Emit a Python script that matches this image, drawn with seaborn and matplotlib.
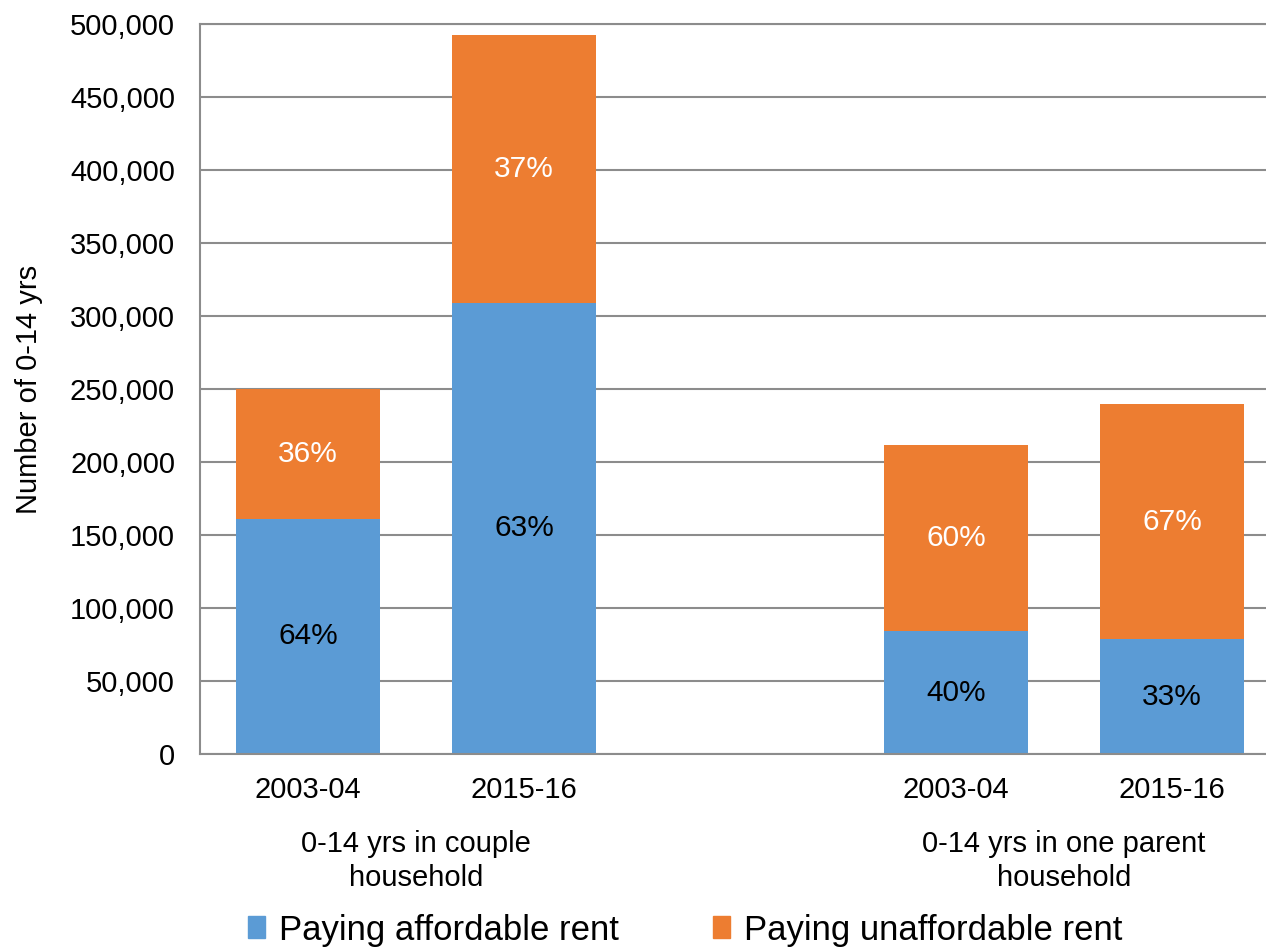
import matplotlib.pyplot as plt
import matplotlib.ticker as mticker
import pandas as pd
import seaborn as sns

groups = ['0-14 yrs in couple\nhousehold', '0-14 yrs in one parent\nhousehold']
years = ['2003-04', '2015-16']
affordable = [161000, 309000, 84000, 78500]
unaffordable = [89000, 183500, 127600, 161200]
pct_affordable = ['64%', '63%', '40%', '33%']
pct_unaffordable = ['36%', '37%', '60%', '67%']
series_names = ['Paying affordable rent', 'Paying unaffordable rent']

blue = '#5B9BD5'
orange = '#ED7D31'
grid_grey = '#8C8C8C'

sns.set_theme(style='white')
plt.rcParams['font.family'] = ['Liberation Sans', 'DejaVu Sans']
plt.rcParams['text.color'] = 'black'
plt.rcParams['axes.labelcolor'] = 'black'

# one empty slot between the two household groups
slots = [g * 3 + j for g in range(len(groups)) for j in range(len(years))]
df = pd.DataFrame({
    'slot': slots,
    'affordable': affordable,
    'total': [a + u for a, u in zip(affordable, unaffordable)],
})

fig = plt.figure(figsize=(12.66, 9.5), dpi=100)
ax = fig.add_axes([200 / 1266, 196 / 950, 1066 / 1266, 730 / 950])

bar_w = 0.667
sns.barplot(data=df, x='slot', y='total', native_scale=True, color=orange,
            saturation=1, width=bar_w, linewidth=0, errorbar=None, ax=ax)
sns.barplot(data=df, x='slot', y='affordable', native_scale=True, color=blue,
            saturation=1, width=bar_w, linewidth=0, errorbar=None, ax=ax)

for i, row in df.iterrows():
    ax.text(row['slot'], row['affordable'] / 2, pct_affordable[i],
            ha='center', va='center', fontsize=21.5, color='black')
    ax.text(row['slot'], row['affordable'] + unaffordable[i] / 2, pct_unaffordable[i],
            ha='center', va='center', fontsize=21.5, color='white')

ax.set_ylim(0, 500000)
ax.set_xlim(-0.5, 4.435)
ax.yaxis.set_major_locator(mticker.MultipleLocator(50000))
ax.yaxis.set_major_formatter(mticker.FuncFormatter(lambda v, p: f'{int(v):,}'))
ax.set_xticks(slots)
ax.set_xticklabels(years * len(groups))
ax.tick_params(axis='y', length=0, pad=18, labelsize=21, labelcolor='black')
ax.tick_params(axis='x', length=0, pad=16, labelsize=21, labelcolor='black')
ax.set_xlabel('')
ax.set_ylabel('Number of 0-14 yrs', fontsize=21, color='black')
ax.yaxis.set_label_coords(-0.147, 0.5)

ax.yaxis.grid(True, color=grid_grey, linewidth=1.5)
ax.set_axisbelow(True)
for side in ['left', 'bottom', 'top']:
    ax.spines[side].set_color(grid_grey)
    ax.spines[side].set_linewidth(1.5)
ax.spines['right'].set_visible(False)

for g, name in enumerate(groups):
    ax.text(g * 3 + 0.5, -0.147, name, transform=ax.get_xaxis_transform(),
            ha='center', va='center', fontsize=21, color='black', linespacing=1.28)

handles = [plt.Rectangle((0, 0), 1, 1, color=blue), plt.Rectangle((0, 0), 1, 1, color=orange)]
fig.legend(handles, series_names, loc='center', bbox_to_anchor=(0.541, 0.021),
           ncol=2, frameon=False, fontsize=25, handlelength=0.5, handleheight=0.6,
           handletextpad=0.4, columnspacing=2.7, labelcolor='black')

fig.savefig('out.png', dpi=100)
